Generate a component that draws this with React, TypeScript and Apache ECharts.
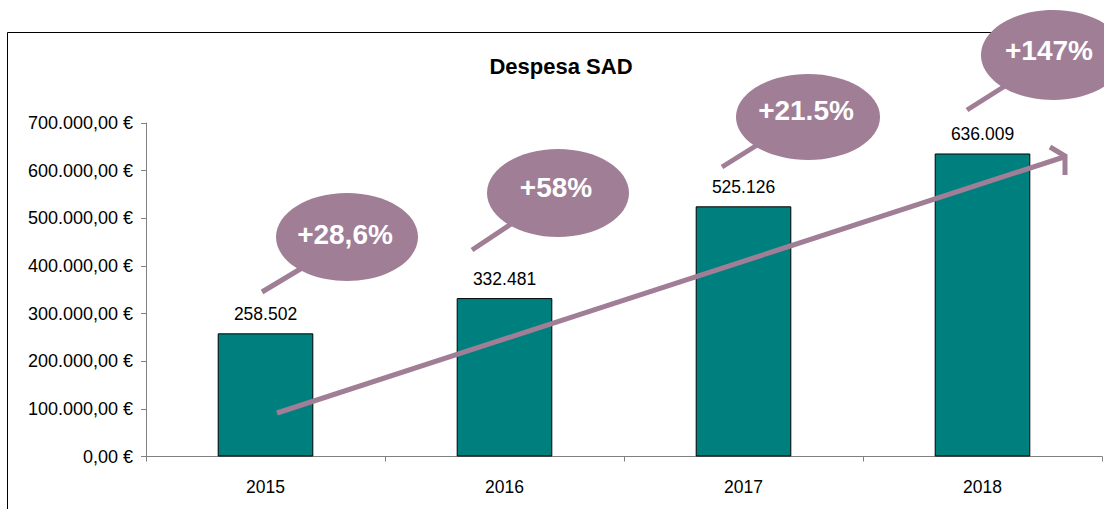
import React, { useEffect, useRef } from "react";
import * as echarts from "echarts";

const categories = ["2015", "2016", "2017", "2018"];
const spending = [258502, 332481, 525126, 636009];
const yTicks = [0, 100000, 200000, 300000, 400000, 500000, 600000, 700000];
const growthLabels = ["+28,6%", "+58%", "+21.5%", "+147%"];

const MAUVE = "#A07E96";
const FONT = "Liberation Sans, Arial, Helvetica, sans-serif";

function fmtThousands(v: number): string {
  return String(Math.round(v)).replace(/\B(?=(\d{3})+(?!\d))/g, ".");
}
function fmtEuro(v: number): string {
  return fmtThousands(v) + ",00 €";
}

// callout layout: [cx, cy, rx, ry, tailX1, tailY1, tailX2, tailY2, textX, textY]
const callouts: number[][] = [
  [347, 237, 71, 44, 262, 292, 302, 268, 345, 234],
  [558, 193, 71, 44, 472, 250, 514, 222, 556, 187],
  [808, 117, 72, 43, 722, 167, 762, 142, 806, 110],
  [1053, 55, 72, 45, 967, 110, 1005, 86, 1049, 50],
];

export default function App() {
  const ref = useRef<HTMLDivElement>(null);
  useEffect(() => {
    document.body.style.margin = "0";
    const chart = echarts.init(ref.current!, null, { renderer: "svg" });
    const graphics: any[] = [
      {
        type: "rect",
        shape: { x: 7.5, y: 32.5, width: 1300, height: 700 },
        style: { fill: "none", stroke: "#000", lineWidth: 1 },
        z: 0,
        silent: true,
      },
      {
        type: "text",
        x: 561,
        y: 66,
        style: {
          text: "Despesa SAD",
          font: `bold 22px ${FONT}`,
          fill: "#000",
          textAlign: "center",
          textVerticalAlign: "middle",
        },
        z: 10,
      },
      {
        type: "line",
        shape: { x1: 277, y1: 413, x2: 1064, y2: 157 },
        style: { stroke: MAUVE, lineWidth: 5 },
        z: 20,
      },
      {
        type: "polyline",
        shape: { points: [[1050, 147], [1065, 156], [1065, 175]] },
        style: { stroke: MAUVE, lineWidth: 5, fill: "none", lineJoin: "miter" },
        z: 20,
      },
    ];
    callouts.forEach((c, i) => {
      graphics.push({
        type: "line",
        shape: { x1: c[4], y1: c[5], x2: c[6], y2: c[7] },
        style: { stroke: MAUVE, lineWidth: 5 },
        z: 30,
      });
      graphics.push({
        type: "ellipse",
        shape: { cx: c[0], cy: c[1], rx: c[2], ry: c[3] },
        style: { fill: MAUVE },
        z: 31,
      });
      graphics.push({
        type: "text",
        x: c[8],
        y: c[9],
        style: {
          text: growthLabels[i],
          font: `bold 28px ${FONT}`,
          fill: "#fff",
          textAlign: "center",
          textVerticalAlign: "middle",
        },
        z: 32,
      });
    });
    chart.setOption({
      animation: false,
      textStyle: { fontFamily: FONT },
      grid: { left: 146, right: 2, top: 123, bottom: 52.5, containLabel: false },
      xAxis: {
        type: "category",
        data: categories,
        boundaryGap: true,
        axisLine: { lineStyle: { color: "#808080", width: 1 } },
        axisTick: { show: true, length: 5, lineStyle: { color: "#808080" } },
        axisLabel: { color: "#000", fontSize: 17.5, margin: 21, fontFamily: FONT },
      },
      yAxis: {
        type: "value",
        min: yTicks[0],
        max: yTicks[yTicks.length - 1],
        interval: 100000,
        axisLine: { show: true, lineStyle: { color: "#808080", width: 1 } },
        axisTick: { show: true, length: 5, lineStyle: { color: "#808080" } },
        splitLine: { show: false },
        axisLabel: {
          color: "#000",
          fontSize: 18,
          margin: 13,
          fontFamily: FONT,
          formatter: (v: number) => fmtEuro(v),
        },
      },
      series: [
        {
          type: "bar",
          data: spending,
          barWidth: "40%",
          itemStyle: { color: "#007F7F", borderColor: "#000", borderWidth: 1 },
          label: {
            show: true,
            position: "top",
            distance: 10,
            color: "#000",
            fontSize: 17.5,
            fontFamily: FONT,
            formatter: (p: any) => fmtThousands(p.value),
          },
          z: 2,
        },
      ],
      graphic: graphics,
    });
    return () => chart.dispose();
  }, []);
  return <div ref={ref} style={{ width: 1104, height: 509 }} />;
}
